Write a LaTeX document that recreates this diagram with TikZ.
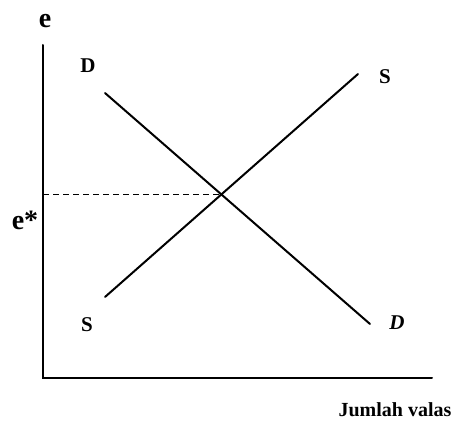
\documentclass[tikz,border=0pt]{standalone}
\usepackage{fontspec}
\setmainfont{Liberation Serif}
\begin{document}
\begin{tikzpicture}[x=1pt,y=-1pt,
  axis/.style={line width=2pt,line cap=round},
  curve/.style={line width=2pt,line cap=round},
  lbl/.style={font=\fontsize{21}{22}\selectfont\bfseries,inner sep=0pt},
  big/.style={font=\fontsize{28}{29}\selectfont\bfseries,inner sep=0pt}]
\useasboundingbox (0,0) rectangle (456,425);
\coordinate (O) at (43,378);
\coordinate (Ytop) at (43,45);
\coordinate (Xend) at (432,378);
\coordinate (D1) at (105,93);
\coordinate (D2) at (370,324);
\coordinate (S1) at (105,297);
\coordinate (S2) at (358,74);
\draw[axis] (Ytop) -- (O) -- (Xend);
\draw[curve] (D1) -- (D2);
\draw[curve] (S1) -- (S2);
\coordinate (E) at (intersection of D1--D2 and S1--S2);
\coordinate (Ey) at (O |- E);
\draw[line width=1.6pt,dash pattern=on 6pt off 4pt] (Ey) -- (E);
\node[big,anchor=base] (le) at (45,28) {e};
\node[big,anchor=base] (les) at (25,230) {e*};
\node[lbl,anchor=base] (ld1) at (88,73) {D};
\node[lbl,anchor=base] (ls1) at (385,84) {S};
\node[lbl,anchor=base] (ls2) at (87,332) {S};
\node[lbl,anchor=base,font=\fontsize{21}{22}\selectfont\bfseries\itshape] (ld2) at (397,330) {D};
\node[lbl,anchor=base,font=\fontsize{20}{22}\selectfont\bfseries] (lx) at (395,417) {Jumlah valas};
\end{tikzpicture}
\end{document}
